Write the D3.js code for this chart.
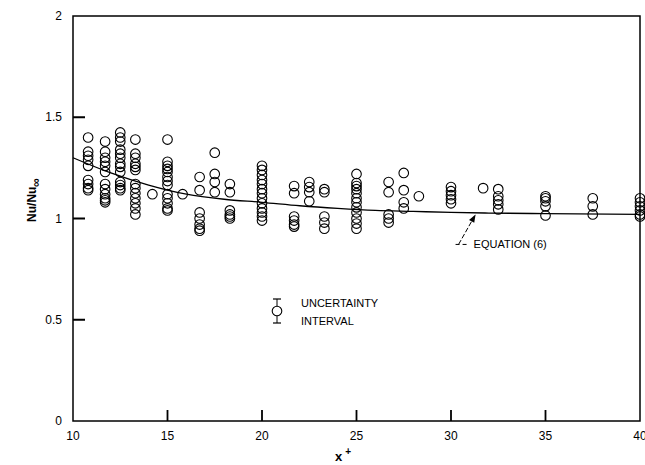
<!DOCTYPE html>
<html>
<head>
<meta charset="utf-8">
<script src="https://cdn.jsdelivr.net/npm/d3@7"></script>
<style>
  body { margin: 0; background: #fff; }
  svg { display: block; font-family: "Liberation Sans", Arial, sans-serif; }
</style>
</head>
<body>
<div id="chart"></div>
<script>
// x+ positions of the measurement columns
var colX = [10.8, 11.7, 12.5, 13.3, 14.2, 15.0, 15.8, 16.7, 17.5, 18.3, 20.0, 21.7, 22.5, 23.3,
            25.0, 26.7, 27.5, 28.3, 30.0, 31.7, 32.5, 35.0, 37.5, 40.0];
// Nu/Nu_inf readings for each column
var colY = [
  [1.40, 1.33, 1.31, 1.29, 1.26, 1.19, 1.17, 1.15, 1.14],
  [1.38, 1.33, 1.30, 1.28, 1.26, 1.23, 1.17, 1.145, 1.12, 1.10, 1.09, 1.08],
  [1.425, 1.40, 1.38, 1.34, 1.32, 1.30, 1.27, 1.255, 1.23, 1.18, 1.165, 1.15, 1.14],
  [1.39, 1.32, 1.30, 1.27, 1.255, 1.24, 1.17, 1.15, 1.125, 1.10, 1.075, 1.05, 1.02],
  [1.12],
  [1.39, 1.28, 1.26, 1.245, 1.23, 1.205, 1.185, 1.165, 1.12, 1.10, 1.075, 1.05, 1.04],
  [1.12],
  [1.205, 1.14, 1.03, 1.00, 0.97, 0.95, 0.94],
  [1.325, 1.22, 1.18, 1.13],
  [1.17, 1.13, 1.04, 1.02, 1.01, 1.00],
  [1.26, 1.24, 1.215, 1.19, 1.17, 1.145, 1.125, 1.10, 1.075, 1.05, 1.03, 1.01, 0.99],
  [1.16, 1.125, 1.01, 0.99, 0.97, 0.96],
  [1.18, 1.155, 1.13, 1.085],
  [1.145, 1.13, 1.01, 0.98, 0.95],
  [1.22, 1.175, 1.16, 1.145, 1.125, 1.10, 1.08, 1.055, 1.03, 1.00, 0.975, 0.95],
  [1.18, 1.13, 1.02, 1.00, 0.98],
  [1.225, 1.14, 1.08, 1.05],
  [1.11],
  [1.155, 1.135, 1.115, 1.095, 1.075],
  [1.15],
  [1.145, 1.11, 1.09, 1.07, 1.045],
  [1.11, 1.10, 1.085, 1.06, 1.015],
  [1.10, 1.06, 1.02],
  [1.10, 1.08, 1.06, 1.04, 1.02, 1.01]
];
// equation (6) curve
var curveX = [10, 12, 14, 16, 18, 20, 22, 24, 26, 28, 30, 32, 35, 40];
var curveY = [1.30, 1.225, 1.165, 1.12, 1.095, 1.08, 1.063, 1.05, 1.04, 1.035, 1.03, 1.027, 1.024, 1.02];

var xTicks = [10, 15, 20, 25, 30, 35, 40];
var yTicks = [0, 0.5, 1, 1.5, 2];
var yTickLabels = ["0", "0.5", "1", "1.5", "2"];

var W = 645, H = 465;
var svg = d3.select("#chart").append("svg")
  .attr("width", W)
  .attr("height", H);

var x = d3.scaleLinear().domain([10, 40]).range([73, 640]);
var y = d3.scaleLinear().domain([0, 2]).range([421, 16]);

// frame
svg.append("rect")
  .attr("x", x(10)).attr("y", y(2))
  .attr("width", x(40) - x(10)).attr("height", y(0) - y(2))
  .attr("fill", "none").attr("stroke", "#000").attr("stroke-width", 1.5);

// inward ticks, drawn as one path
var tickPath = "";
xTicks.slice(1, -1).forEach(function(d) {
  tickPath += "M" + x(d) + "," + y(0) + "V" + (y(0) - 11);
});
yTicks.slice(1, -1).forEach(function(d) {
  tickPath += "M" + x(10) + "," + y(d) + "H" + (x(10) + 12);
});
svg.append("path")
  .attr("d", tickPath)
  .attr("fill", "none")
  .attr("stroke", "#000")
  .attr("stroke-width", 1.8);

svg.selectAll(".xlab")
  .data(xTicks)
  .enter().append("text")
  .attr("class", "xlab")
  .attr("x", function(d) { return x(d); })
  .attr("y", y(0) + 19)
  .attr("text-anchor", "middle")
  .attr("font-size", 12)
  .text(function(d) { return d; });

svg.selectAll(".ylab")
  .data(yTicks)
  .enter().append("text")
  .attr("class", "ylab")
  .attr("x", x(10) - 11)
  .attr("y", function(d) { return y(d) + 4; })
  .attr("text-anchor", "end")
  .attr("font-size", 12)
  .text(function(d, i) { return yTickLabels[i]; });

// equation curve
var line = d3.line()
  .x(function(d, i) { return x(curveX[i]); })
  .y(function(d) { return y(d); })
  .curve(d3.curveMonotoneX);

svg.append("path")
  .datum(curveY)
  .attr("d", line)
  .attr("fill", "none")
  .attr("stroke", "#000")
  .attr("stroke-width", 1.3);

// data circles
var pts = [];
colX.forEach(function(cx, i) {
  colY[i].forEach(function(v) { pts.push({x: cx, y: v}); });
});

svg.selectAll(".pt")
  .data(pts)
  .enter().append("circle")
  .attr("class", "pt")
  .attr("cx", function(d) { return x(d.x); })
  .attr("cy", function(d) { return y(d.y); })
  .attr("r", 4.8)
  .attr("fill", "none")
  .attr("stroke", "#000")
  .attr("stroke-width", 1.1);

// equation label with leader arrow
var tipX = 31.3, tipY = 1.03;
var ax = x(tipX), ay = y(tipY) + 2;
var bx = ax - 17, by = ay + 30;
svg.append("line")
  .attr("x1", bx).attr("y1", by).attr("x2", ax).attr("y2", ay)
  .attr("stroke", "#000").attr("stroke-width", 1)
  .attr("stroke-dasharray", "5,2");
svg.append("line")
  .attr("x1", bx - 3).attr("y1", by).attr("x2", bx + 10).attr("y2", by)
  .attr("stroke", "#000").attr("stroke-width", 1)
  .attr("stroke-dasharray", "4,3");
var ang = Math.atan2(ay - by, ax - bx);
var al = 8, aw = 3;
svg.append("path")
  .attr("d", "M" + ax + "," + ay +
    "L" + (ax - al * Math.cos(ang) + aw * Math.sin(ang)) + "," + (ay - al * Math.sin(ang) - aw * Math.cos(ang)) +
    "L" + (ax - al * Math.cos(ang) - aw * Math.sin(ang)) + "," + (ay - al * Math.sin(ang) + aw * Math.cos(ang)) + "Z")
  .attr("fill", "#000");
svg.append("text")
  .attr("x", bx + 15).attr("y", by + 4)
  .attr("font-size", 11)
  .text("EQUATION (6)");

// uncertainty legend
var ux = 277, uy = 311;
svg.append("line").attr("x1", ux).attr("x2", ux).attr("y1", uy - 12).attr("y2", uy + 12)
  .attr("stroke", "#000").attr("stroke-width", 1);
svg.append("line").attr("x1", ux - 4).attr("x2", ux + 4).attr("y1", uy - 12).attr("y2", uy - 12)
  .attr("stroke", "#000").attr("stroke-width", 1.2);
svg.append("line").attr("x1", ux - 4).attr("x2", ux + 4).attr("y1", uy + 12).attr("y2", uy + 12)
  .attr("stroke", "#000").attr("stroke-width", 1.2);
svg.append("circle").attr("cx", ux).attr("cy", uy).attr("r", 4.8)
  .attr("fill", "#fff").attr("stroke", "#000").attr("stroke-width", 1.1);
svg.append("text").attr("x", 301).attr("y", 307).attr("font-size", 11).text("UNCERTAINTY");
svg.append("text").attr("x", 301).attr("y", 325).attr("font-size", 11).text("INTERVAL");

// axis titles
var yl = svg.append("text")
  .attr("transform", "translate(36,200) rotate(-90)")
  .attr("text-anchor", "middle")
  .attr("font-size", 12)
  .attr("font-weight", "bold");
yl.append("tspan").text("Nu/Nu");
yl.append("tspan").attr("dy", 4).attr("font-size", 12).text("\u221E");

var xl = svg.append("text")
  .attr("x", 335).attr("y", 461)
  .attr("font-size", 13)
  .attr("font-weight", "bold");
xl.append("tspan").text("x");
xl.append("tspan").attr("dx", 3).attr("dy", -6).attr("font-size", 10).text("+");
</script>
</body>
</html>
